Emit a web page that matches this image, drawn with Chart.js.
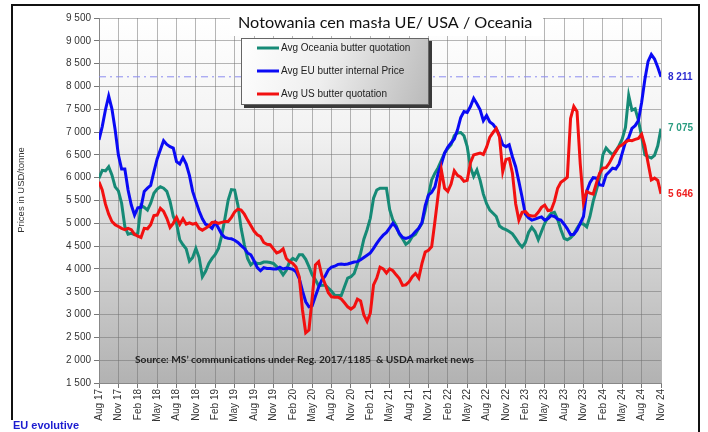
<!DOCTYPE html>
<html>
<head>
<meta charset="utf-8">
<script src="https://cdn.jsdelivr.net/npm/chart.js@4.4.1/dist/chart.umd.min.js"></script>
<style>
  html, body { margin: 0; padding: 0; background: #fff; }
  #c { display: block; }
</style>
</head>
<body>
<canvas id="c" width="708" height="432"></canvas>
<script>
// x axis: months since Aug 17, one reading every half month
const STEP = 0.5;
const tickLabels = [
  "Aug 17", "Nov 17", "Feb 18", "May 18", "Aug 18", "Nov 18", "Feb 19", "May 19",
  "Aug 19", "Nov 19", "Feb 20", "May 20", "Aug 20", "Nov 20", "Feb 21", "May 21",
  "Aug 21", "Nov 21", "Feb 22", "May 22", "Aug 22", "Nov 22", "Feb 23", "May 23",
  "Aug 23", "Nov 23", "Feb 24", "May 24", "Aug 24", "Nov 24"
];

// USD / tonne
const oceaniaPrice = [
  5990, 6160, 6150, 6240, 6060, 5800, 5710, 5440, 4930, 4760,
  4780, 4750, 4780, 5390, 5350, 5290, 5440, 5660, 5750, 5800,
  5770, 5700, 5480, 5150, 5000, 4640, 4530, 4440, 4170, 4250,
  4450, 4250, 3830, 3950, 4120, 4230, 4320, 4450, 4730, 5110,
  5510, 5740, 5730, 5400, 4890, 4530, 4230, 4090, 4150, 4120,
  4120, 4150, 4150, 4140, 4120, 4050, 3980, 3870, 3970, 4160,
  4230, 4190, 4310, 4310, 4210, 4050, 3870, 3760, 3630, 3640,
  3650, 3580, 3510, 3420, 3420, 3420, 3610, 3800, 3830, 3900,
  4110, 4340, 4650, 4860, 5110, 5550, 5730, 5770, 5770, 5770,
  5300, 5070, 4950, 4760, 4660, 4540, 4590, 4710, 4760, 4890,
  5000, 5290, 5620, 5950, 6100, 6220, 6380, 6540, 6640, 6720,
  6920, 6980, 6990, 6920, 6680, 6230, 6030, 6170, 5940, 5640,
  5430, 5290, 5220, 5150, 4940, 4890, 4860, 4820, 4770, 4670,
  4560, 4480, 4580, 4800, 4910, 4820, 4640, 4820, 5000, 5130,
  5220, 5240, 5090, 4860, 4670, 4640, 4680, 4760, 4890, 5000,
  4980, 4920, 5150, 5480, 5730, 5990, 6500, 6650, 6570, 6500,
  6590, 6700, 6850, 7100, 7800, 7480, 7510, 7260, 6900, 6500,
  6460, 6430, 6490, 6700, 7075
];

const euPrice = [
  6830, 7120, 7490, 7790, 7510, 7050, 6500, 6190, 6190, 5730,
  5400, 5180, 5340, 5350, 5700, 5770, 5830, 6130, 6410, 6610,
  6810, 6730, 6680, 6650, 6350, 6300, 6440, 6300, 6050, 5700,
  5480, 5270, 5100, 4980, 4950, 4890, 5020, 4890, 4760, 4690,
  4670, 4660, 4630, 4580, 4510, 4450, 4350, 4310, 4180, 4030,
  3960, 4030, 4010, 4010, 4000, 4000, 4040, 4000, 4020, 4010,
  3990, 3940, 3790, 3520, 3280, 3170, 3190, 3400, 3600, 3760,
  3840, 3980, 4040, 4060, 4100, 4110, 4100, 4110, 4130, 4150,
  4160, 4200, 4250, 4300, 4350, 4450, 4560, 4660, 4740, 4800,
  4900, 5000, 4910, 4780, 4690, 4670, 4690, 4740, 4820, 4890,
  5020, 5390, 5620, 5680, 5800, 6100, 6300, 6540, 6670, 6760,
  6850, 7050, 7320, 7450, 7430, 7560, 7740, 7620, 7490, 7250,
  7360, 7220, 7170, 7070, 6930, 6720, 6680, 6720, 6460, 6240,
  5915, 5570, 5200, 5120, 5070, 5090, 5120, 5140, 5070, 5100,
  5170, 5150, 5090, 5070, 4980, 4880, 4750, 4760, 4850, 5000,
  5150, 5700, 5890, 6000, 5990, 5840, 5830, 6060, 6130, 6210,
  6190, 6300, 6540, 6780, 6880, 7080, 7140, 7250, 7650, 8150,
  8550, 8700, 8600, 8420, 8211
];

const usPrice = [
  5910, 5730, 5420, 5200, 5040, 4970, 4930, 4890, 4860, 4890,
  4860, 4760, 4720, 4690, 4890, 4880, 4970, 5170, 5180, 5330,
  5260, 5110, 4910, 5000, 5130, 4980, 5100, 4980, 5010, 4980,
  5000, 4890, 4850, 4890, 4940, 5020, 5030, 5000, 5020, 5040,
  5040, 5130, 5250, 5310, 5290, 5200, 5070, 4950, 4830, 4750,
  4710, 4580, 4540, 4530, 4440, 4350, 4380, 4440, 4230, 4160,
  4120, 4040, 3830, 3100, 2600, 2660, 3360, 4090, 4160, 3850,
  3670, 3480, 3390, 3380, 3380, 3340, 3260, 3170, 3120, 3170,
  3340, 3300, 2990, 2850, 3030, 3650, 3800, 4040, 4000, 3910,
  4000, 3960, 3870, 3790, 3640, 3650, 3720, 3830, 3900, 3800,
  4120, 4370, 4410, 4490, 5040, 5620, 6170, 5770, 5700, 5860,
  6150, 6050, 6010, 5920, 5940, 6330, 6500, 6520, 6540, 6510,
  6670, 6890, 6990, 7080, 6890, 6130, 6400, 6420, 6100, 5430,
  5070, 5240, 5260, 5180, 5160, 5160, 5240, 5350, 5400, 5280,
  5290, 5480, 5770, 5900, 5950, 6010, 7300, 7560, 7450, 6300,
  5450, 5700, 5660, 5640, 5880, 6100, 6210, 6220, 6320, 6460,
  6570, 6680, 6720, 6780, 6820, 6810, 6840, 6860, 6950, 6700,
  6320, 5950, 5990, 5940, 5646
];

const seriesNames = [
  "Avg Oceania butter quotation",
  "Avg EU butter internal Price",
  "Avg US butter quotation"
];
const seriesColors = ["#168a76", "#0a0af5", "#f21010"];
const labelColors = ["#2a9c80", "#2b2bd0", "#ee2020"];

const toPoints = (arr) => arr.map((v, i) => ({ x: i * STEP, y: v }));
const fmt = (n) => String(Math.round(n)).replace(/\B(?=(\d{3})+(?!\d))/g, " ");
const xMax = (tickLabels.length - 1) * 3;
const euLast = euPrice[euPrice.length - 1];

// draws backdrop gradient, title, legend box, value labels, notes
const decor = {
  id: "decor",
  beforeDraw(chart) {
    const { ctx, chartArea: a } = chart;
    ctx.save();
    ctx.fillStyle = "#fff";
    ctx.fillRect(0, 0, chart.width, chart.height);
    const g = ctx.createLinearGradient(0, a.top, 0, a.bottom);
    g.addColorStop(0, "#ffffff");
    g.addColorStop(0.3, "#f3f3f3");
    g.addColorStop(1, "#b2b2b2");
    ctx.fillStyle = g;
    ctx.fillRect(a.left, a.top, a.right - a.left, a.bottom - a.top);
    ctx.restore();
  },
  afterDraw(chart) {
    const { ctx } = chart;
    const y = chart.scales.y;
    ctx.save();

    // title on white box
    ctx.fillStyle = "#fff";
    ctx.fillRect(230, 6, 313, 30);
    ctx.fillStyle = "#111";
    ctx.font = "16.2px Lato";
    ctx.textBaseline = "middle";
    ctx.textAlign = "left";
    ctx.fillText("Notowania cen masła UE/ USA / Oceania", 238, 23);

    // legend box with shadow
    ctx.fillStyle = "#3a3a3a";
    ctx.fillRect(244, 41, 188, 67);
    const lg = ctx.createLinearGradient(241, 38, 429, 105);
    lg.addColorStop(0, "#ffffff");
    lg.addColorStop(0.45, "#eeeeee");
    lg.addColorStop(1, "#b9b9b9");
    ctx.fillStyle = lg;
    ctx.fillRect(241, 38, 188, 67);
    ctx.strokeStyle = "#666";
    ctx.lineWidth = 1;
    ctx.strokeRect(241.5, 38.5, 187, 66);
    ctx.font = "10px 'Liberation Sans'";
    seriesNames.forEach((name, i) => {
      const ly = 48 + i * 23;
      ctx.strokeStyle = seriesColors[i];
      ctx.lineWidth = 3;
      ctx.beginPath();
      ctx.moveTo(257, ly);
      ctx.lineTo(279, ly);
      ctx.stroke();
      ctx.fillStyle = "#222";
      ctx.fillText(name, 281, ly);
    });

    // last values at the right
    ctx.font = "bold 10px 'Liberation Sans'";
    [oceaniaPrice, euPrice, usPrice].forEach((arr, i) => {
      const v = arr[arr.length - 1];
      ctx.fillStyle = labelColors[i];
      ctx.fillText(fmt(v), 668, y.getPixelForValue(v));
    });

    // source note
    ctx.fillStyle = "#222";
    ctx.font = "bold 10.2px Lato";
    ctx.fillText("Source: MS\u2019 communications under Reg. 2017/1185  & USDA market news", 135, 360);

    // y axis title
    ctx.save();
    ctx.translate(21, 190);
    ctx.rotate(-Math.PI / 2);
    ctx.textAlign = "center";
    ctx.fillStyle = "#333";
    ctx.font = "9.5px 'Liberation Sans'";
    ctx.fillText("Prices in USD/tonne", 0, 0);
    ctx.restore();

    // outer frame
    ctx.strokeStyle = "#111";
    ctx.lineWidth = 2;
    ctx.beginPath();
    ctx.moveTo(12, 420);
    ctx.lineTo(12, 5);
    ctx.lineTo(699, 5);
    ctx.lineTo(699, 432);
    ctx.stroke();

    ctx.fillStyle = "#1c1cd0";
    ctx.font = "bold 11px 'Liberation Sans'";
    ctx.fillText("EU evolutive", 13, 426);
    ctx.restore();
  }
};

new Chart(document.getElementById("c"), {
  type: "line",
  data: {
    datasets: [
      {
        label: seriesNames[2],
        data: toPoints(usPrice),
        borderColor: seriesColors[2],
        borderWidth: 3,
        pointRadius: 0,
        order: 0,
      },
      {
        label: seriesNames[1],
        data: toPoints(euPrice),
        borderColor: seriesColors[1],
        borderWidth: 3,
        pointRadius: 0,
        order: 1,
      },
      {
        label: seriesNames[0],
        data: toPoints(oceaniaPrice),
        borderColor: seriesColors[0],
        borderWidth: 3,
        pointRadius: 0,
        order: 2,
      },
      {
        label: "EU latest",
        data: [{ x: 0, y: euLast }, { x: xMax, y: euLast }],
        borderColor: "#8c8cf0",
        borderWidth: 1,
        borderDash: [7, 4, 2, 4],
        pointRadius: 0,
        order: 3,
      },
    ],
  },
  options: {
    responsive: false,
    animation: false,
    devicePixelRatio: 1,
    events: [],
    layout: { padding: { left: 12, top: 18, right: 47, bottom: 0 } },
    plugins: {
      legend: { display: false },
      tooltip: { enabled: false },
      title: { display: false },
    },
    scales: {
      x: {
        type: "linear",
        min: 0,
        max: xMax,
        afterFit: (s) => { s.height = 49; },
        ticks: {
          stepSize: 3,
          autoSkip: false,
          minRotation: 90,
          maxRotation: 90,
          padding: 1,
          color: "#333",
          font: { family: "'Liberation Sans'", size: 10 },
          callback: (v) => tickLabels[v / 3],
        },
        grid: { color: "rgba(110,110,110,0.5)", tickLength: 5, tickColor: "#777" },
        border: { color: "#888" },
      },
      y: {
        min: 1500,
        max: 9500,
        afterFit: (s) => { s.width = 87; },
        ticks: {
          stepSize: 500,
          padding: 3,
          color: "#333",
          font: { family: "'Liberation Sans'", size: 10 },
          callback: (v) => fmt(v),
        },
        grid: { color: "rgba(110,110,110,0.5)", tickLength: 5, tickColor: "#777" },
        border: { color: "#888" },
      },
    },
  },
  plugins: [decor],
});
</script>
</body>
</html>
